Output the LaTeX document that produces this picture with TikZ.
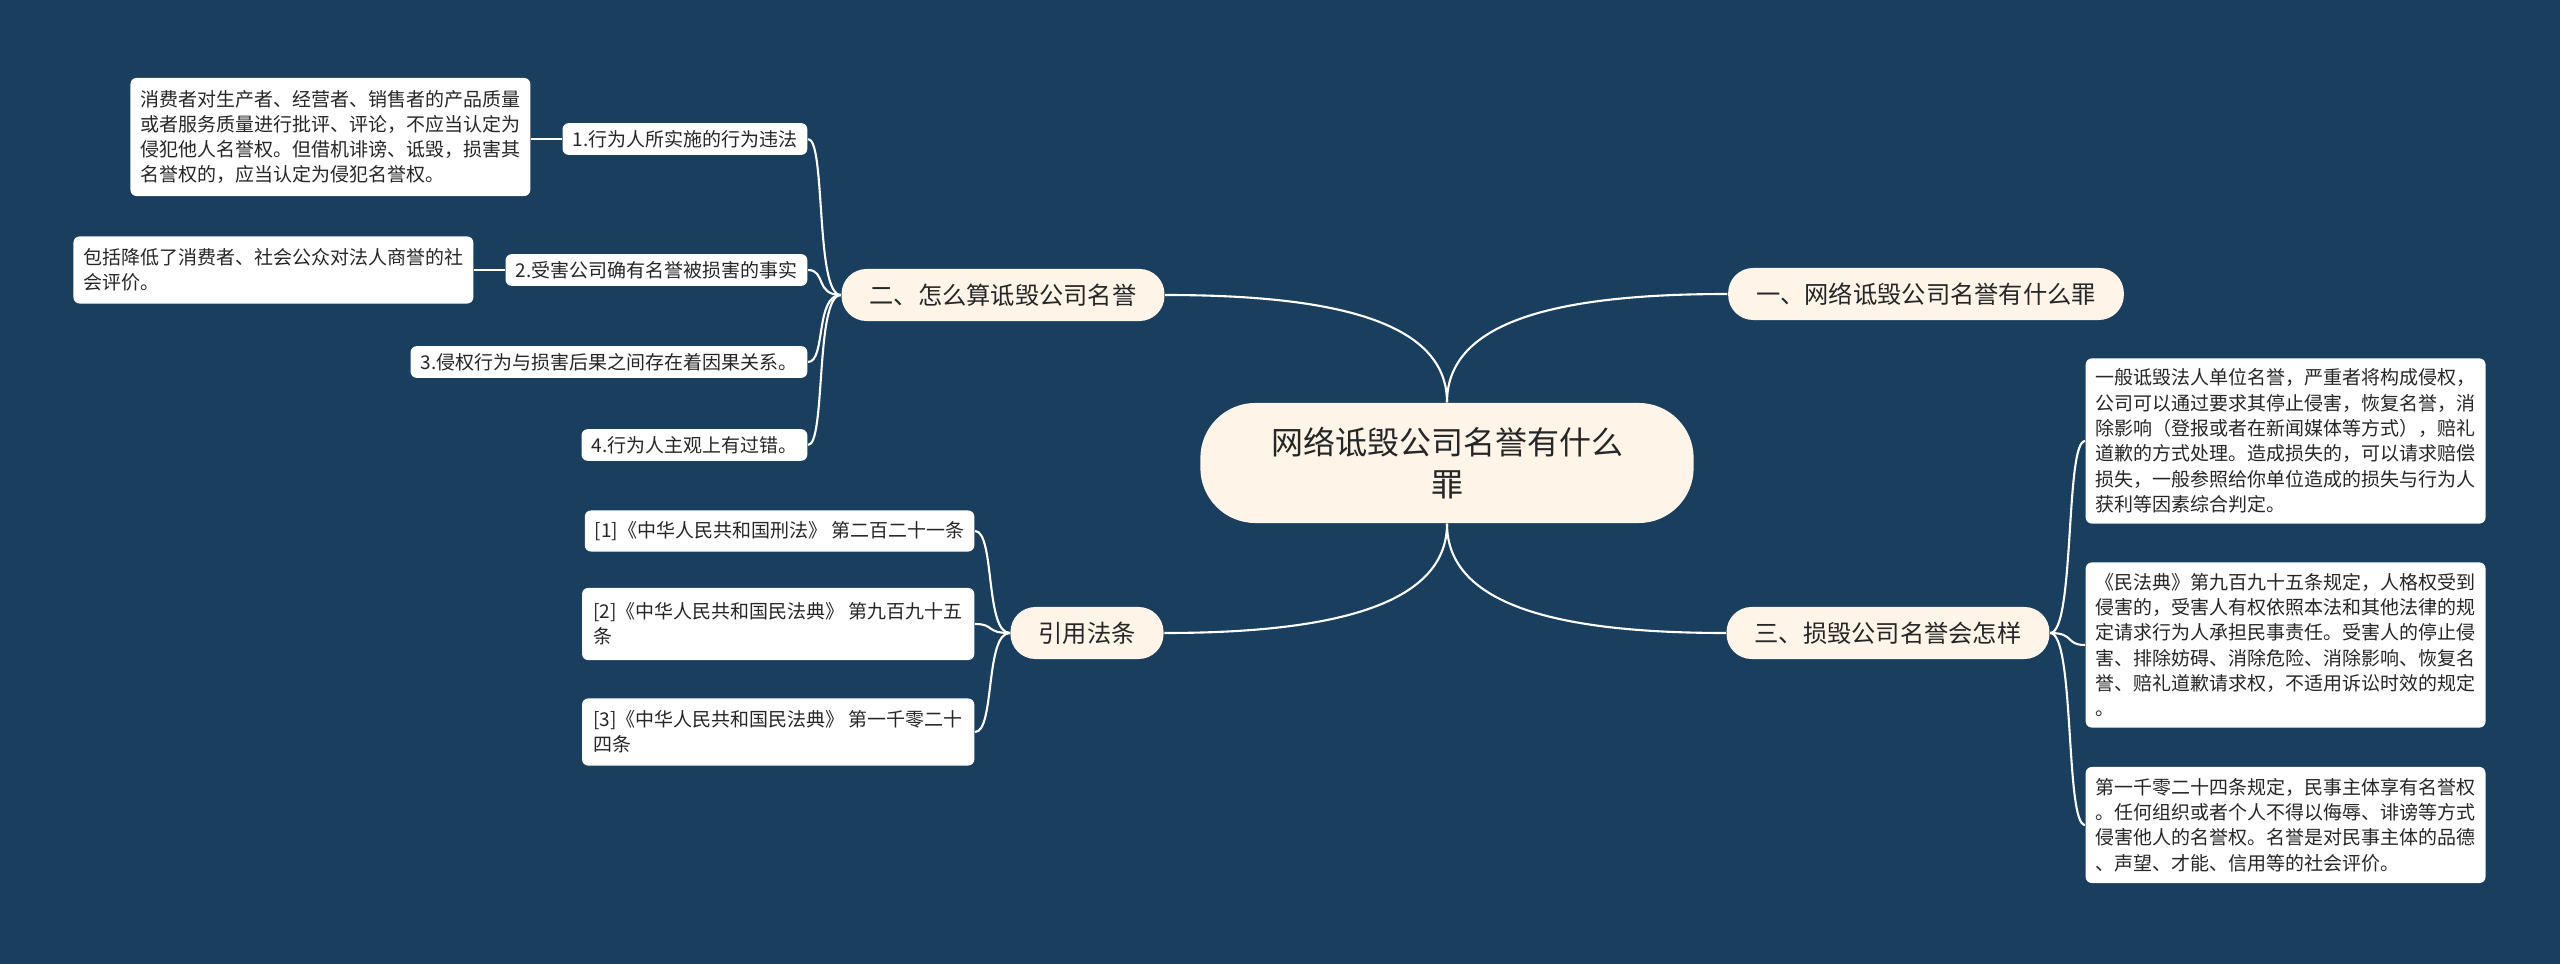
\documentclass[tikz,border=0pt]{standalone}
\usepackage{fontspec}
\setmainfont{Noto Sans CJK SC}
\begin{document}
\begin{tikzpicture}[x=0.01cm,y=-0.01cm,
  conn/.style={draw=white,line width=0.6pt},
  leaf/.style={fill=white,rounded corners=0.06cm,inner xsep=0.1cm,inner ysep=0.07cm,
    font=\fontsize{5.4pt}{7.2pt}\selectfont,align=left,text=black!85},
  branch/.style={fill=yellow!5!orange!8!white,rounded corners=0.25cm,minimum height=0.52cm,
    inner xsep=0.28cm,font=\fontsize{6.9pt}{8pt}\selectfont,text=black!85},
  centre/.style={fill=yellow!5!orange!8!white,rounded corners=0.55cm,minimum width=4.93cm,
    minimum height=1.2cm,align=center,font=\fontsize{9.1pt}{12pt}\selectfont,text=black!85}]
\fill[fill={rgb,255:red,25;green,62;blue,94}] (0,0) rectangle (2560,964);
\useasboundingbox (0,0) rectangle (2560,964);
% nodes
\node[centre] (c) at (1447,463) {网络诋毁公司名誉有什么\\罪};
\node[branch] (b2) at (1003,295) {二、怎么算诋毁公司名誉};
\node[branch] (bf) at (1087,633) {引用法条};
\node[branch] (b1) at (1926,294) {一、网络诋毁公司名誉有什么罪};
\node[branch] (b3) at (1888,633) {三、损毁公司名誉会怎样};
\node[leaf,anchor=east] (l1) at (808,139) {1.行为人所实施的行为违法};
\node[leaf,anchor=east] (l2) at (808,270) {2.受害公司确有名誉被损害的事实};
\node[leaf,anchor=east] (l3) at (808,362) {3.侵权行为与损害后果之间存在着因果关系。};
\node[leaf,anchor=east] (l4) at (808,445) {4.行为人主观上有过错。};
\node[leaf,anchor=east,minimum width=3.95cm,minimum height=1.18cm] (d1) at (531,137) {消费者对生产者、经营者、销售者的产品质量\\或者服务质量进行批评、评论，不应当认定为\\侵犯他人名誉权。但借机诽谤、诋毁，损害其\\名誉权的，应当认定为侵犯名誉权。};
\node[leaf,anchor=east,minimum width=3.96cm,minimum height=0.67cm] (d2) at (474,270) {包括降低了消费者、社会公众对法人商誉的社\\会评价。};
\node[leaf,anchor=east,minimum width=3.84cm,minimum height=0.41cm] (r1) at (975,531) {[1]《中华人民共和国刑法》 第二百二十一条};
\node[leaf,anchor=east,minimum width=3.92cm,minimum height=0.72cm] (r2) at (975,624) {[2]《中华人民共和国民法典》 第九百九十五\\条};
\node[leaf,anchor=east,minimum width=3.92cm,minimum height=0.67cm] (r3) at (975,732) {[3]《中华人民共和国民法典》 第一千零二十\\四条};
\node[leaf,anchor=west,minimum width=3.94cm,minimum height=1.65cm] (e1) at (2085,441) {一般诋毁法人单位名誉，严重者将构成侵权，\\公司可以通过要求其停止侵害，恢复名誉，消\\除影响（登报或者在新闻媒体等方式），赔礼\\道歉的方式处理。造成损失的，可以请求赔偿\\损失，一般参照给你单位造成的损失与行为人\\获利等因素综合判定。};
\node[leaf,anchor=west,minimum width=3.94cm,minimum height=1.65cm] (e2) at (2085,645) {《民法典》第九百九十五条规定，人格权受到\\侵害的，受害人有权依照本法和其他法律的规\\定请求行为人承担民事责任。受害人的停止侵\\害、排除妨碍、消除危险、消除影响、恢复名\\誉、赔礼道歉请求权，不适用诉讼时效的规定\\。};
\node[leaf,anchor=west,minimum width=3.94cm,minimum height=1.16cm] (e3) at (2085,825) {第一千零二十四条规定，民事主体享有名誉权\\。任何组织或者个人不得以侮辱、诽谤等方式\\侵害他人的名誉权。名誉是对民事主体的品德\\、声望、才能、信用等的社会评价。};
% connectors
\draw[conn] (b2.east) .. controls (1330,295) and (1447,320) .. (c.north);
\draw[conn] (b1.west) .. controls (1560,294) and (1447,320) .. (c.north);
\draw[conn] (bf.east) .. controls (1330,633) and (1447,606) .. (c.south);
\draw[conn] (b3.west) .. controls (1560,633) and (1447,606) .. (c.south);
\draw[conn] (b2.west) .. controls (815,295) and (826,139) .. (l1.east);
\draw[conn] (b2.west) .. controls (815,295) and (826,270) .. (l2.east);
\draw[conn] (b2.west) .. controls (815,295) and (826,362) .. (l3.east);
\draw[conn] (b2.west) .. controls (815,295) and (826,445) .. (l4.east);
\draw[conn] (bf.west) .. controls (985,633) and (995,531) .. (r1.east);
\draw[conn] (bf.west) .. controls (985,633) and (995,624) .. (r2.east);
\draw[conn] (bf.west) .. controls (985,633) and (995,732) .. (r3.east);
\draw[conn] (b3.east) .. controls (2075,633) and (2065,441) .. (e1.west);
\draw[conn] (b3.east) .. controls (2075,633) and (2065,645) .. (e2.west);
\draw[conn] (b3.east) .. controls (2075,633) and (2065,825) .. (e3.west);
\draw[conn] (l1.west) -- (d1.east|-l1.west);
\draw[conn] (l2.west) -- (d2.east);
\end{tikzpicture}
\end{document}
